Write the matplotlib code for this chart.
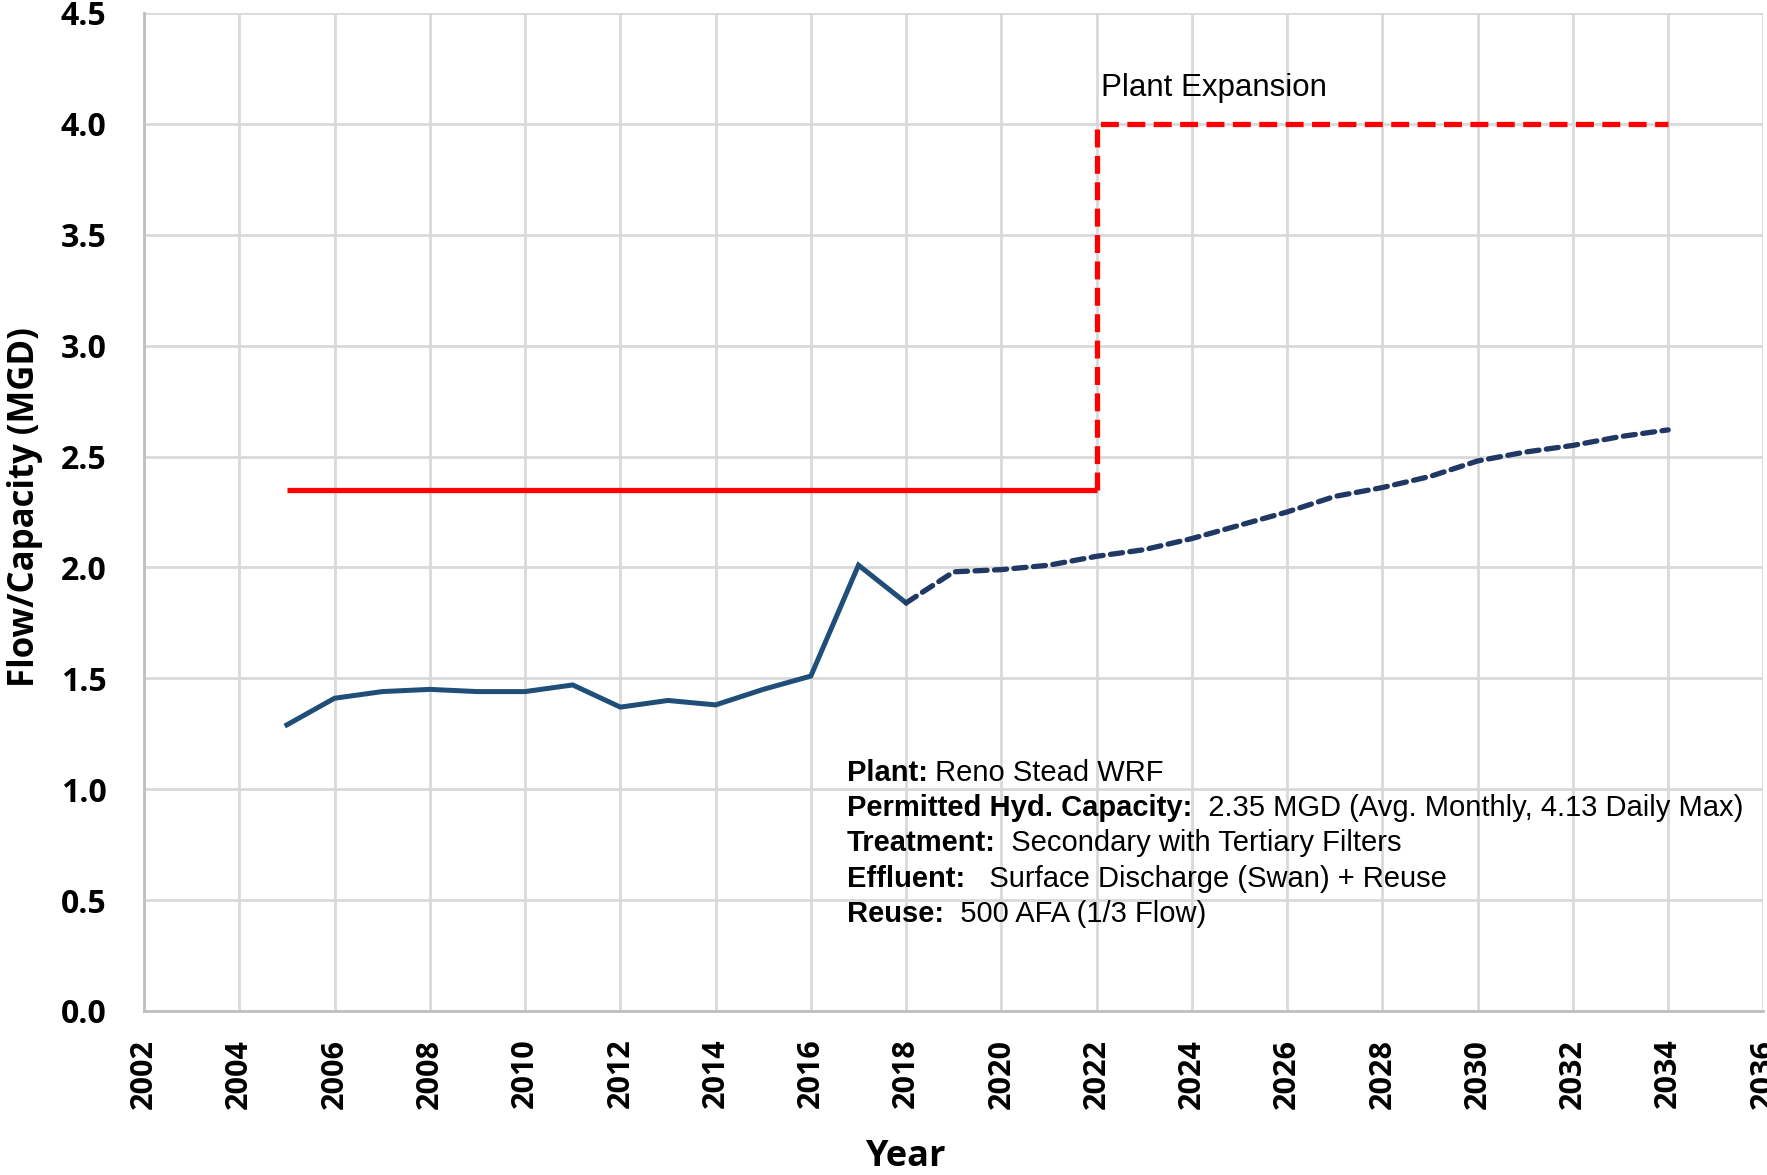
import matplotlib.pyplot as plt

# Historic flows (MGD)
hist_years = [2005, 2006, 2007, 2008, 2009, 2010, 2011, 2012, 2013, 2014, 2015, 2016, 2017, 2018]
hist_flow = [1.29, 1.41, 1.44, 1.45, 1.44, 1.44, 1.47, 1.37, 1.40, 1.38, 1.45, 1.51, 2.01, 1.84]

# Projected flows (MGD)
proj_years = [2018, 2019, 2020, 2021, 2022, 2023, 2024, 2025, 2026, 2027, 2028, 2029, 2030, 2031, 2032, 2033, 2034]
proj_flow = [1.84, 1.98, 1.99, 2.01, 2.05, 2.08, 2.13, 2.19, 2.25, 2.32, 2.36, 2.41, 2.48, 2.52, 2.55, 2.59, 2.62]

# Capacity
cap_years = [2005, 2022]
cap_value = [2.35, 2.35]
exp_years = [2022, 2022, 2034]
exp_value = [2.35, 4.0, 4.0]

info = [
    ("Plant:", " Reno Stead WRF"),
    ("Permitted Hyd. Capacity:", "  2.35 MGD (Avg. Monthly, 4.13 Daily Max)"),
    ("Treatment:", "  Secondary with Tertiary Filters"),
    ("Effluent:", "   Surface Discharge (Swan) + Reuse"),
    ("Reuse:", "  500 AFA (1/3 Flow)"),
]

fig = plt.figure(figsize=(17.67, 11.75), dpi=100)
ax = fig.add_axes([0.0815, 0.1396, 0.9165, 0.8494])

ax.plot(cap_years, cap_value, color='#FF0000', lw=3.8, solid_capstyle='butt', zorder=3)
ax.plot(exp_years, exp_value, color='#FF0000', lw=3.8, dashes=(3.4, 1.6), zorder=3)
ax.plot(hist_years, hist_flow, color='#1F4E79', lw=3.6, solid_joinstyle='miter', zorder=4)
ax.plot(proj_years, proj_flow, color='#203864', lw=3.8, dashes=(2.3, 1.4),
        dash_capstyle='round', zorder=4)

ax.text(2022.1, 4.16, "Plant Expansion", fontsize=22.5, family='Liberation Sans',
        ha='left', va='center')

y0 = 1.074
for i, (lab, val) in enumerate(info):
    t = ax.text(2016.75, y0 - i * 0.159, lab, fontsize=21, family='Liberation Sans',
                fontweight='bold', ha='left', va='center', zorder=5)
    ax.annotate(val, xy=(1, 0), xycoords=t, fontsize=21, family='Liberation Sans',
                ha='left', va='bottom', zorder=5)

ax.set_xlim(2002, 2036)
ax.set_ylim(0, 4.5)
ax.set_xticks(range(2002, 2037, 2))
ax.set_yticks([0, 0.5, 1.0, 1.5, 2.0, 2.5, 3.0, 3.5, 4.0, 4.5])
ax.set_yticklabels(['%.1f' % v for v in ax.get_yticks()])
ax.tick_params(axis='x', length=0, pad=20, labelsize=22, labelrotation=90)
ax.tick_params(axis='y', length=0, pad=27, labelsize=23)
for lab in ax.get_xticklabels() + ax.get_yticklabels():
    lab.set_fontweight('bold')
    lab.set_family('Open Sans')

ax.grid(True, color='#D9D9D9', lw=2.0)
ax.set_axisbelow(True)
for s in ['top', 'right']:
    ax.spines[s].set_visible(False)
for s in ['left', 'bottom']:
    ax.spines[s].set_color('#BFBFBF')
    ax.spines[s].set_linewidth(2.0)

ax.set_xlabel("Year", fontsize=26, fontweight='bold', family='Open Sans')
ax.xaxis.set_label_coords(0.470, -0.146)
ax.xaxis.label.set_va('center')
ax.set_ylabel("Flow/Capacity (MGD)", fontsize=25, fontweight='bold', family='Open Sans')
ax.yaxis.set_label_coords(-0.0735, 0.505)
ax.yaxis.label.set_va('center')

fig.savefig('out.png', dpi=100)
